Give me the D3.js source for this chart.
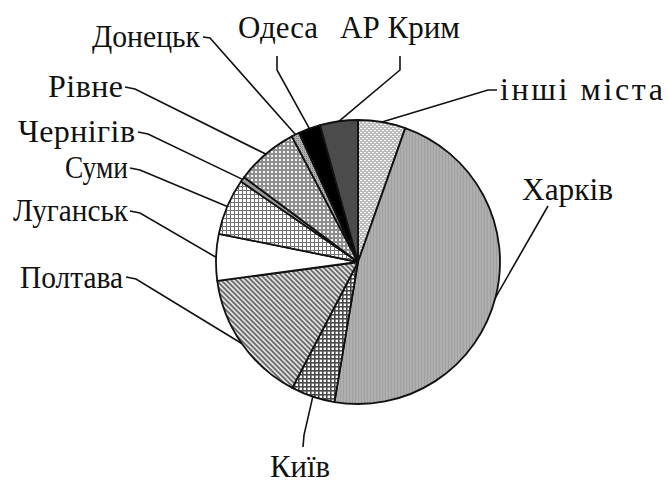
<!DOCTYPE html>
<html><head><meta charset="utf-8">
<script src="https://cdn.jsdelivr.net/npm/d3@7"></script>
<style>body{margin:0;background:#fff}svg{display:block}</style>
</head><body><div id="chart"></div>
<script>
// Data (percent shares, clockwise from 12 o'clock)
const categories = ["інші міста","Харків","Київ","Полтава","Луганськ","Суми","Чернігів","Рівне","Донецьк","Одеса","АР Крим"];
const values     = [5.4, 47.2, 5.0, 15.2, 5.3, 6.4, 0.6, 7.1, 0.9, 2.5, 4.3];

const W = 667, H = 486, cx = 358, cy = 262, R = 142;
const svg = d3.select("#chart").append("svg").attr("width", W).attr("height", H);
const defs = svg.append("defs");

function pat(id, w, h, build) {
  const p = defs.append("pattern").attr("id", id).attr("patternUnits", "userSpaceOnUse")
    .attr("width", w).attr("height", h);
  build(p);
}
pat("p0", 4, 4, p => { p.append("rect").attr("width",4).attr("height",4).attr("fill","#bcbcbc");
  p.append("rect").attr("x",0).attr("y",0).attr("width",2).attr("height",1).attr("fill","#fff");
  p.append("rect").attr("x",2).attr("y",2).attr("width",2).attr("height",1).attr("fill","#fff"); });
pat("p1", 3, 3, p => { p.append("rect").attr("width",3).attr("height",3).attr("fill","#afafaf");
  p.append("rect").attr("width",1).attr("height",3).attr("fill","#a0a0a0"); });
pat("p2", 4, 4, p => { p.append("rect").attr("width",4).attr("height",4).attr("fill","#fff");
  p.append("rect").attr("width",4).attr("height",1.6).attr("fill","#4a4a4a");
  p.append("rect").attr("width",1.6).attr("height",4).attr("fill","#4a4a4a"); });
pat("p3", 5, 5, p => { p.append("rect").attr("width",5).attr("height",5).attr("fill","#e2e2e2");
  p.append("path").attr("d","M-1,-1 L6,6 M-1,4 L1,6 M4,-1 L6,1").attr("stroke","#6a6a6a").attr("stroke-width",1.8); });
pat("p5", 4, 4, p => { p.append("rect").attr("width",4).attr("height",4).attr("fill","#fff");
  p.append("rect").attr("width",4).attr("height",1).attr("fill","#707070");
  p.append("rect").attr("width",1).attr("height",4).attr("fill","#707070"); });
pat("p7", 4, 4, p => { p.append("rect").attr("width",4).attr("height",4).attr("fill","#8e8e8e");
  p.append("rect").attr("x",1).attr("y",1).attr("width",2).attr("height",2).attr("fill","#f4f4f4"); });
pat("p8", 2, 2, p => { p.append("rect").attr("width",2).attr("height",2).attr("fill","#b0b0b0");
  p.append("rect").attr("width",1).attr("height",1).attr("fill","#808080"); });

const fills = ["url(#p0)","url(#p1)","url(#p2)","url(#p3)","#fff","url(#p5)","#9a9a9a","url(#p7)","url(#p8)","#000","#4b4b4b"];

const pie = d3.pie().sort(null).value(d => d.v);
const arcs = pie(categories.map((c,i) => ({c, v: values[i], i})));
const arc = d3.arc().innerRadius(0).outerRadius(R);

const g = svg.append("g").attr("transform", `translate(${cx},${cy})`);
g.selectAll("path.slice").data(arcs).join("path").attr("class","slice")
  .attr("d", arc).attr("fill", (d,i) => fills[i])
  .attr("stroke", "#111").attr("stroke-width", 1.8).attr("stroke-linejoin","round");

// Label layout: text position, width, adjust mode, leader elbow
const labelLayout = [
  {x:500, y:89,  a:"start",  w:163, adj:"spacing", elbow:[[497,90],[488,90]]},
  {x:522, y:189, a:"start",  w:91,  adj:"spacingAndGlyphs", elbow:[[548,206]]},
  {x:300, y:466, a:"middle", w:60,  adj:"spacingAndGlyphs", elbow:[[303,447],[304,435]]},
  {x:123, y:277, a:"end",    w:103, adj:"spacingAndGlyphs", elbow:[[126,277],[136,279]]},
  {x:128, y:210, a:"end",    w:115, adj:"spacingAndGlyphs", elbow:[[130,211],[140,213]]},
  {x:128, y:167, a:"end",    w:63,  adj:"spacingAndGlyphs", elbow:[[130,168],[140,170]]},
  {x:135, y:131, a:"end",    w:117, adj:"spacing", elbow:[[138,132],[148,134]]},
  {x:123, y:86,  a:"end",    w:75,  adj:"spacing", elbow:[[125,87],[135,89]]},
  {x:200, y:36,  a:"end",    w:108, adj:"spacingAndGlyphs", elbow:[[203,37],[210,38]]},
  {x:278, y:27,  a:"middle", w:80,  adj:"spacingAndGlyphs", elbow:[[277,56],[277,70]]},
  {x:400, y:27,  a:"middle", w:120, adj:"spacingAndGlyphs", elbow:[[400,56],[400,70]]}
];

arcs.forEach((d,i) => {
  const L = labelLayout[i];
  const m = (d.startAngle + d.endAngle) / 2;
  const px = cx + R * Math.sin(m), py = cy - R * Math.cos(m);
  const pts = L.elbow.concat([[px, py]]);
  svg.append("path").attr("d", d3.line()(pts)).attr("fill","none")
    .attr("stroke","#111").attr("stroke-width",1.6);
  svg.append("text").attr("x", L.x).attr("y", L.y).attr("text-anchor", L.a)
    .attr("dominant-baseline","central")
    .attr("textLength", L.w).attr("lengthAdjust", L.adj)
    .attr("font-family","'Liberation Serif','Times New Roman',serif")
    .attr("font-size", 32).attr("fill","#111").text(categories[i]);
});
</script></body></html>
